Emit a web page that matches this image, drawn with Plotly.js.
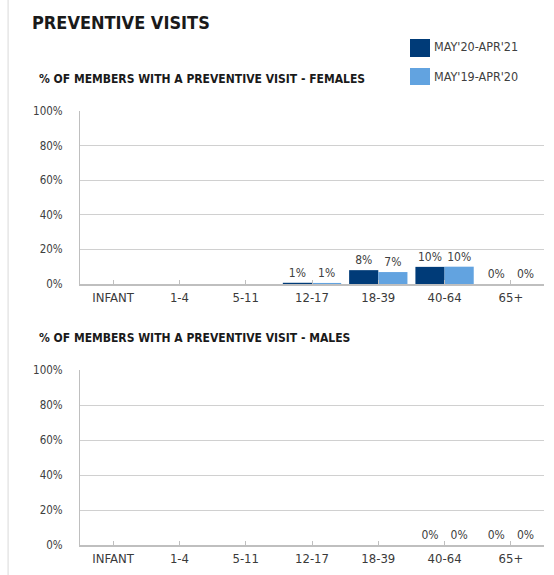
<!DOCTYPE html>
<html>
<head>
<meta charset="utf-8">
<script src="https://cdn.plot.ly/plotly-3.0.1.min.js"></script>
<style>html,body{margin:0;padding:0;background:#fff;}#chart{width:554px;height:575px;}</style>
</head>
<body>
<div id="chart"></div>
<script>
const categories = ["INFANT", "1-4", "5-11", "12-17", "18-39", "40-64", "65+"];
const seriesNames = ["MAY'20-APR'21", "MAY'19-APR'20"];
const femalesCurrent = [null, null, null, 0.7, 8, 9.9, 0];
const femalesPrior   = [null, null, null, 0.6, 6.9, 10, 0];
const malesCurrent   = [null, null, null, null, null, 0, 0];
const malesPrior     = [null, null, null, null, null, 0, 0];
const yTicks = [0, 20, 40, 60, 80, 100];
const yTickLabels = ["0%", "20%", "40%", "60%", "80%", "100%"];
const titleText = "PREVENTIVE VISITS";
const femaleSubtitle = "% OF MEMBERS WITH A PREVENTIVE VISIT - FEMALES";
const maleSubtitle = "% OF MEMBERS WITH A PREVENTIVE VISIT - MALES";

const DARK = "#003B78", LIGHT = "#62A3E0";
const FONT = "'DejaVu Sans Condensed', 'DejaVu Sans', sans-serif";
const TXT = "#404040";

function bar(y, name, color, xa, ya) {
  return {
    type: "bar", x: categories, y: y, name: name, xaxis: xa, yaxis: ya,
    marker: {color: color}, showlegend: false,
    texttemplate: "%{y:.0f}%", textposition: "outside", cliponaxis: false,
    constraintext: "none",
    textfont: {family: FONT, size: 12, color: TXT}, hoverinfo: "skip"
  };
}

const data = [
  bar(femalesCurrent, seriesNames[0], DARK, "x", "y"),
  bar(femalesPrior, seriesNames[1], LIGHT, "x", "y"),
  bar(malesCurrent, seriesNames[0], DARK, "x2", "y2"),
  bar(malesPrior, seriesNames[1], LIGHT, "x2", "y2")
];

function xax(anchor) {
  return {
    anchor: anchor, type: "category", showgrid: false, zeroline: false,
    showline: true, linecolor: "#bfbfbf", linewidth: 2,
    ticks: "inside", ticklen: 4, tickcolor: "#bfbfbf", tickwidth: 1,
    tickfont: {family: FONT, size: 13, color: "#3a3a3a"}, fixedrange: true
  };
}
function yax(anchor, domain) {
  return {
    anchor: anchor, domain: domain, range: [0, 100],
    tickmode: "array", tickvals: yTicks, ticktext: yTickLabels,
    showgrid: true, gridcolor: "#d0d0d0", gridwidth: 1, zeroline: false,
    showline: true, linecolor: "#bfbfbf", linewidth: 1,
    ticks: "outside", ticklen: 14, tickcolor: "rgba(0,0,0,0)",
    tickfont: {family: FONT, size: 11.5, color: TXT}, fixedrange: true
  };
}

const shapes = [
  {type: "line", xref: "paper", yref: "paper", x0: -0.155, x1: -0.155, y0: -0.07, y1: 1.26,
   line: {color: "#d9d9d9", width: 1}},
  {type: "rect", xref: "paper", yref: "paper", x0: 0.7112, x1: 0.7543, y0: 1.1659, y1: 1.1244,
   fillcolor: DARK, line: {width: 0}},
  {type: "rect", xref: "paper", yref: "paper", x0: 0.7112, x1: 0.7543, y0: 1.0991, y1: 1.0599,
   fillcolor: LIGHT, line: {width: 0}}
];

const annotations = [
  {text: "<b>" + titleText + "</b>", xref: "paper", yref: "paper", x: -0.108, y: 1.205,
   xanchor: "left", yanchor: "middle", showarrow: false,
   font: {family: FONT, size: 18, color: "#1a1a1a"}},
  {text: "<b>" + femaleSubtitle + "</b>", xref: "paper", yref: "paper", x: -0.093, y: 1.0,
   xanchor: "left", yanchor: "middle", showarrow: false, yshift: 32,
   font: {family: FONT, size: 12, color: "#1a1a1a"}},
  {text: "<b>" + maleSubtitle + "</b>", xref: "paper", yref: "paper", x: -0.093, y: 0.4032,
   xanchor: "left", yanchor: "middle", showarrow: false, yshift: 32,
   font: {family: FONT, size: 12, color: "#1a1a1a"}},
  {text: seriesNames[0], xref: "paper", yref: "paper", x: 0.7586, y: 1.1475,
   xanchor: "left", yanchor: "middle", showarrow: false,
   font: {family: FONT, size: 12.5, color: TXT}},
  {text: seriesNames[1], xref: "paper", yref: "paper", x: 0.7586, y: 1.0806,
   xanchor: "left", yanchor: "middle", showarrow: false,
   font: {family: FONT, size: 12.5, color: TXT}}
];

const layout = {
  width: 554, height: 575,
  margin: {l: 80, r: 10, t: 111, b: 30},
  paper_bgcolor: "#fff", plot_bgcolor: "#fff",
  barmode: "group", bargap: 0.12, bargroupgap: 0,
  showlegend: false,
  xaxis: xax("y"), yaxis: yax("x", [0.6014, 1]),
  xaxis2: xax("y2"), yaxis2: yax("x2", [0, 0.4032]),
  shapes: shapes, annotations: annotations,
  font: {family: FONT}
};

Plotly.newPlot("chart", data, layout, {displayModeBar: false, staticPlot: true});
</script>
</body>
</html>
